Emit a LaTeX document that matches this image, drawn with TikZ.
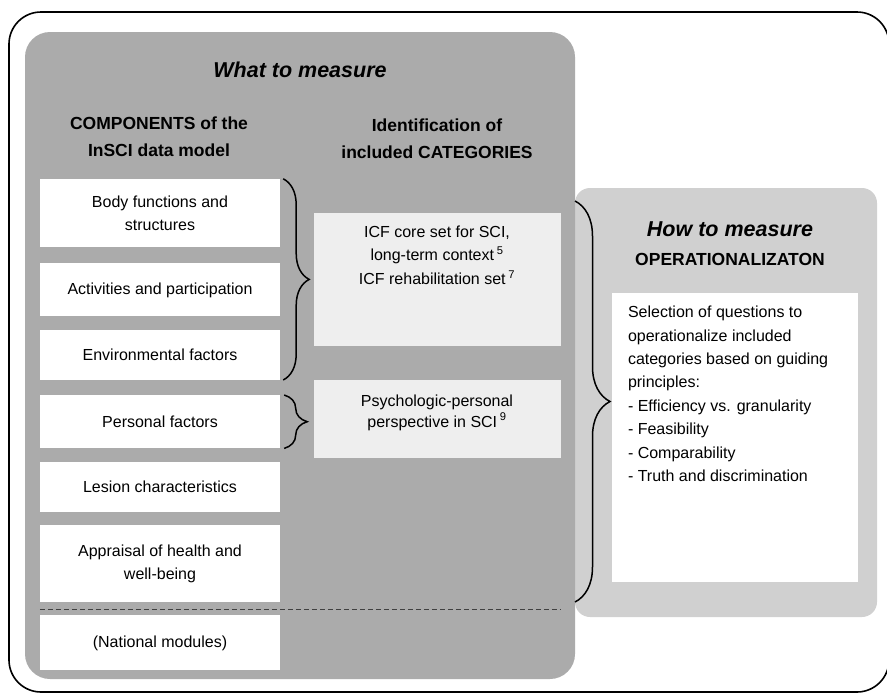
\documentclass[tikz,border=0pt]{standalone}
\usepackage{fontspec}
\setmainfont{Liberation Sans}
\usepackage{tikz}
\usetikzlibrary{positioning,decorations.pathreplacing}
\definecolor{darkpanel}{RGB}{171,171,171}
\definecolor{lightpanel}{RGB}{208,208,208}
\definecolor{catfill}{RGB}{238,238,238}
\tikzset{
    %Define style for boxes
    compbox/.style={
           rectangle,
           fill=white,
           minimum width=240pt,
           inner sep=0pt,
           align=center,
           font=\fontsize{16}{23}\selectfont,
           },
    catbox/.style={
           rectangle,
           fill=catfill,
           minimum width=247pt,
           inner sep=0pt,
           align=center,
           font=\fontsize{16}{21}\selectfont,
           },
    heading/.style={
           align=center,
           inner sep=0pt,
           font=\fontsize{17.5}{27}\selectfont\bfseries,
           },
    title/.style={
           inner sep=0pt,
           font=\fontsize{21.5}{26}\selectfont\bfseries\itshape,
           },
    plain/.style={
           inner sep=0pt,
           font=\fontsize{16}{23.4}\selectfont,
           },
    % Define brace style
    curly/.style={
           decorate,
           decoration={brace, amplitude=#1},
           line width=1.5pt,
           },
}
\begin{document}
\begin{tikzpicture}[x=1pt,y=-1pt,node distance=13pt]
\useasboundingbox (0,0) rectangle (887,694);

 %panels
\draw[line width=1.6pt, rounded corners=32pt] (9,12) rectangle (889,692);
\fill[lightpanel, rounded corners=15pt] (575,188) rectangle (877,617);
\fill[darkpanel, rounded corners=25pt] (25,32) rectangle (575,679);

 %what to measure
\node[title] (what) at (300,70) {What to measure};
\node[heading] (comp) at (159,137) {COMPONENTS of the\\InSCI data model};
\node[heading] (ident) at (437,139) {Identification of\\included CATEGORIES};

\node[compbox, minimum height=68pt] (body) at (160,213) {Body functions and\\structures};
\node[compbox, minimum height=53pt, below=16pt of body] (activ) {Activities and participation};
\node[compbox, minimum height=50pt, below=of activ] (env) {Environmental factors};
\node[compbox, minimum height=53pt, below=15pt of env] (pers) {Personal factors};
\node[compbox, minimum height=50pt, below=of pers] (lesion) {Lesion characteristics};
\node[compbox, minimum height=77pt, below=of lesion] (apprais) {Appraisal of health and\\well-being};
\node[compbox, minimum height=55pt, below=of apprais] (natmod) {(National modules)};

\node[catbox, minimum height=133pt] (icf) at (437,279.5) {};
\node[plain, align=center, below=13pt of icf.north] (icftext) {ICF core set for SCI,\\long-term context\,\textsuperscript{5}\\ICF rehabilitation set\,\textsuperscript{7}};
\node[catbox, minimum height=78pt, below=34pt of icf] (psych) {Psychologic-personal\\perspective in SCI\,\textsuperscript{9}\\[-4pt]};

\draw[dashed, dash pattern=on 5pt off 3pt, line width=0.9pt, black!75]
    ([yshift=-7pt]apprais.south west) -- ([yshift=-7pt]apprais.south west -| psych.east);

 %how to measure
\node[title] (how) at (730,229) {How to measure};
\node[heading] (oper) at (730,259) {OPERATIONALIZATON};
\node[fill=white, minimum width=246pt, minimum height=289pt, inner sep=0pt] (opbox) at (735,437.5) {};
\node[plain, align=left, anchor=north west] (optext) at ([shift={(16pt,-13pt)}]opbox.north west)
    {Selection of questions to\\operationalize included\\categories based on guiding\\principles:\\- Efficiency vs. granularity\\- Feasibility\\- Comparability\\- Truth and discrimination};

 %braces
\coordinate (bracetop) at (575,201);
\coordinate (bracebot) at (575,602);
\draw[curly=26pt] ([xshift=3pt]body.north east) -- ([xshift=3pt]env.south east);
\draw[curly=23pt] ([xshift=4pt]pers.north east) -- ([xshift=4pt]pers.south east);
\draw[curly=35pt] (bracetop) -- (bracebot);

\end{tikzpicture}
\end{document}
